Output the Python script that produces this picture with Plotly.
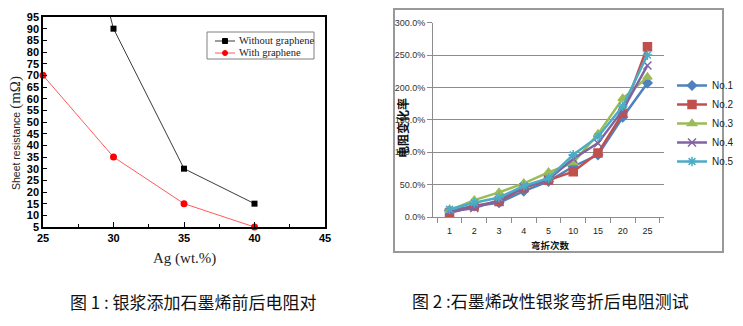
import plotly.graph_objects as go

# ---- Figure 1: sheet resistance vs. silver content ----
ag_wt = [25, 30, 35, 40]
without_graphene = [205, 90, 30, 15]
with_graphene = [70, 35, 15, 5]
legend1_names = ["Without graphene", "With graphene"]

# ---- Figure 2: resistance change rate vs. bending cycles ----
bend_counts = ["1", "2", "3", "4", "5", "10", "15", "20", "25"]
no1 = [10, 17, 22, 40, 55, 78, 96, 154, 207]
no2 = [6, 17, 24, 45, 57, 70, 99, 160, 263]
no3 = [10, 26, 38, 52, 69, 84, 128, 183, 216]
no4 = [8, 14, 26, 46, 58, 90, 114, 165, 234]
no5 = [12, 22, 30, 48, 60, 96, 124, 171, 250]

captions = ["图 1 : 银浆添加石墨烯前后电阻对", "图 2 :石墨烯改性银浆弯折后电阻测试"]

W, H = 743, 326


def fx(px):
    return px / W


def fy(py):
    return 1 - py / H


SANS = "Liberation Sans, Arial, sans-serif"
SERIF = "Liberation Serif, Times New Roman, serif"
CJK = "Noto Sans CJK SC, sans-serif"

BLACK_LINE = "#3a3a3a"
RED_LINE = "#ff5a5a"

fig = go.Figure()

# Left chart traces
fig.add_trace(go.Scatter(
    x=ag_wt, y=without_graphene, name=legend1_names[0], mode="lines+markers",
    line=dict(color=BLACK_LINE, width=1),
    marker=dict(symbol="square", size=6, color="black"),
    xaxis="x", yaxis="y", showlegend=False, cliponaxis=True))
fig.add_trace(go.Scatter(
    x=ag_wt, y=with_graphene, name=legend1_names[1], mode="lines+markers",
    line=dict(color=RED_LINE, width=1),
    marker=dict(symbol="circle", size=7, color="red"),
    xaxis="x", yaxis="y", showlegend=False, cliponaxis=False))

# Right chart traces
series = [
    ("No.1", no1, "#4F81BD", "diamond", 7),
    ("No.2", no2, "#C0504D", "square", 8),
    ("No.3", no3, "#9BBB59", "triangle-up", 8),
    ("No.4", no4, "#8064A2", "x-thin-open", 8),
    ("No.5", no5, "#4BACC6", "asterisk-open", 8),
]
for name, vals, col, sym, sz in series:
    fig.add_trace(go.Scatter(
        x=bend_counts, y=vals, name=name, mode="lines+markers",
        line=dict(color=col, width=2.5),
        marker=dict(symbol=sym, size=sz, color=col, line=dict(color=col, width=1.5)),
        xaxis="x2", yaxis="y2", legend="legend2"))

fig.update_layout(
    width=W, height=H,
    margin=dict(l=0, r=0, t=0, b=0, autoexpand=False),
    paper_bgcolor="white", plot_bgcolor="white",
    showlegend=True,
    xaxis=dict(
        domain=[fx(43), fx(325)], range=[25, 45], dtick=5, automargin=False,
        showgrid=False, zeroline=False,
        showline=True, linecolor="black", linewidth=1.5, mirror=True,
        ticks="inside", ticklen=5, tickcolor="black",
        minor=dict(dtick=2.5, ticks="inside", ticklen=3, tickcolor="black"),
        tickfont=dict(family=SANS, size=11, color="black", weight="bold"),
        anchor="y",
    ),
    yaxis=dict(
        domain=[fy(227), fy(17)], range=[5, 95], dtick=5, automargin=False,
        showgrid=False, zeroline=False,
        showline=True, linecolor="black", linewidth=1.5, mirror=True,
        ticks="inside", ticklen=4, tickcolor="black",
        tickfont=dict(family=SANS, size=11, color="black", weight="bold"),
        anchor="x",
    ),
    xaxis2=dict(
        domain=[fx(433), fx(664)], type="category", automargin=False,
        categoryorder="array", categoryarray=bend_counts,
        showgrid=False, zeroline=False,
        showline=True, linecolor="#8c8c8c", linewidth=1,
        ticks="outside", ticklen=5, tickcolor="#8c8c8c", tickson="boundaries",
        ticklabelstandoff=5,
        tickfont=dict(family=SANS, size=9, color="#222"),
        anchor="y2",
    ),
    yaxis2=dict(
        domain=[fy(217), fy(22.7)], range=[0, 300], dtick=50, automargin=False,
        tickformat=".1f", ticksuffix="%",
        showgrid=True, gridcolor="#8c8c8c", gridwidth=1, zeroline=False,
        showline=True, linecolor="#8c8c8c", linewidth=1,
        ticks="outside", ticklen=5, tickcolor="#8c8c8c",
        tickfont=dict(family=SANS, size=9, color="#333"),
        anchor="x2",
    ),
    legend2=dict(
        x=fx(672), y=fy(71), xanchor="left", yanchor="top",
        bgcolor="rgba(0,0,0,0)", borderwidth=0,
        font=dict(family=SANS, size=10, color="#222"),
        tracegroupgap=0, itemwidth=30,
    ),
)

# Outer frame of the right chart
fig.add_shape(type="rect", xref="paper", yref="paper",
              x0=fx(394), x1=fx(723), y0=fy(252), y1=fy(9),
              line=dict(color="#999999", width=2), layer="below")

# Boxed legend of the left chart
fig.add_shape(type="rect", xref="paper", yref="paper",
              x0=fx(207), x1=fx(314), y0=fy(59), y1=fy(32),
              line=dict(color="#808080", width=1), fillcolor="white")
legend_rows = [(41, BLACK_LINE, "black", "square"), (53, RED_LINE, "red", "circle")]
for (row_y, lcol, mcol, shape_kind), label in zip(legend_rows, legend1_names):
    fig.add_shape(type="line", xref="paper", yref="paper",
                  x0=fx(215), x1=fx(235), y0=fy(row_y), y1=fy(row_y),
                  line=dict(color=lcol, width=1))
    kind = "rect" if shape_kind == "square" else "circle"
    fig.add_shape(type=kind, xref="paper", yref="paper",
                  x0=fx(222.5), x1=fx(227.5), y0=fy(row_y + 2.5), y1=fy(row_y - 2.5),
                  line=dict(color=mcol, width=1), fillcolor=mcol)
    fig.add_annotation(xref="paper", yref="paper", x=fx(237), y=fy(row_y),
                       showarrow=False, xanchor="left", yanchor="middle",
                       text=label, font=dict(family=SERIF, size=10.5, color="#222"))

# Axis titles
fig.add_annotation(
    xref="paper", yref="paper", x=fx(15), y=fy(133), textangle=-90,
    showarrow=False, xanchor="center", yanchor="middle",
    text="Sheet resistance <span style=\"font-family:Liberation Serif;font-size:15px\">(mΩ)</span>",
    font=dict(family=SANS, size=10.5, color="#222"))
fig.add_annotation(
    xref="paper", yref="paper", x=fx(184), y=fy(258),
    showarrow=False, xanchor="center", yanchor="middle",
    text="Ag (wt.%)", font=dict(family=SERIF, size=15, color="#222"))
fig.add_annotation(
    xref="paper", yref="paper", x=fx(403), y=fy(128), textangle=-90,
    showarrow=False, xanchor="center", yanchor="middle",
    text="电阻变化率", font=dict(family=CJK, size=12, color="#111", weight="bold"))
fig.add_annotation(
    xref="paper", yref="paper", x=fx(550), y=fy(245),
    showarrow=False, xanchor="center", yanchor="middle",
    text="弯折次数", font=dict(family=CJK, size=9.5, color="#111", weight="bold"))

# Captions under the charts
fig.add_annotation(
    xref="paper", yref="paper", x=fx(193), y=fy(301),
    showarrow=False, xanchor="center", yanchor="middle",
    text=captions[0], font=dict(family=CJK, size=17, color="#111"))
fig.add_annotation(
    xref="paper", yref="paper", x=fx(550), y=fy(300),
    showarrow=False, xanchor="center", yanchor="middle",
    text=captions[1], font=dict(family=CJK, size=17, color="#111"))

fig.write_html("out.html")
